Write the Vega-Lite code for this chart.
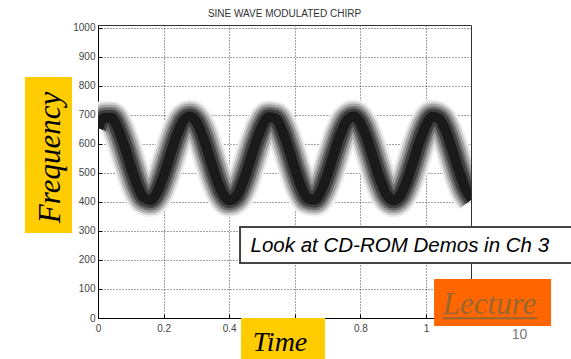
{
  "$schema": "https://vega.github.io/schema/vega-lite/v6.json",
  "width": 373,
  "height": 293,
  "autosize": {"type": "none"},
  "padding": {"left": 98, "top": 25, "right": 100, "bottom": 41},
  "background": "white",
  "title": {"text": "SINE WAVE MODULATED CHIRP", "fontSize": 10, "font": "Liberation Sans", "fontWeight": "normal", "color": "#333333", "anchor": "middle", "offset": 4},
  "config": {
    "view": {"stroke": "#333333", "strokeWidth": 1},
    "axis": {
      "labelFont": "Liberation Sans", "labelFontSize": 10, "labelColor": "#444444", "labelOverlap": false,
      "grid": true, "gridColor": "#444444", "gridDash": [1, 2], "gridWidth": 1, "gridOpacity": 1,
      "domainColor": "#000000", "domainWidth": 1,
      "tickColor": "#000000", "tickSize": -4, "labelPadding": 9,
      "title": null
    },
    "axisY": {"tickCount": 11, "labelPadding": 7, "format": "d"},
    "axisX": {"tickCount": 6}
  },
  "datasets": {
    "band": [
      {"t": 0.00, "f": 655.4}, {"t": 0.02, "f": 690.4}, {"t": 0.04, "f": 690.4}, {"t": 0.06, "f": 655.4},
      {"t": 0.08, "f": 594.1}, {"t": 0.10, "f": 521.8}, {"t": 0.12, "f": 456.5}, {"t": 0.14, "f": 414.4},
      {"t": 0.16, "f": 406.4}, {"t": 0.18, "f": 434.0}, {"t": 0.20, "f": 490.5}, {"t": 0.22, "f": 561.9},
      {"t": 0.24, "f": 630.3}, {"t": 0.26, "f": 679.2}, {"t": 0.28, "f": 695.0}, {"t": 0.30, "f": 675.1},
      {"t": 0.32, "f": 624.0}, {"t": 0.34, "f": 554.6}, {"t": 0.36, "f": 483.8}, {"t": 0.38, "f": 429.8},
      {"t": 0.40, "f": 405.5}, {"t": 0.42, "f": 417.5}, {"t": 0.44, "f": 462.4}, {"t": 0.46, "f": 529.0},
      {"t": 0.48, "f": 601.0}, {"t": 0.50, "f": 659.8}, {"t": 0.52, "f": 692.1}, {"t": 0.54, "f": 688.4},
      {"t": 0.56, "f": 650.2}, {"t": 0.58, "f": 587.1}, {"t": 0.60, "f": 514.7}, {"t": 0.62, "f": 451.1},
      {"t": 0.64, "f": 412.0}, {"t": 0.66, "f": 407.6}, {"t": 0.68, "f": 438.6}, {"t": 0.70, "f": 497.3},
      {"t": 0.72, "f": 569.2}, {"t": 0.74, "f": 636.3}, {"t": 0.76, "f": 682.3}, {"t": 0.78, "f": 694.6},
      {"t": 0.80, "f": 671.2}, {"t": 0.82, "f": 617.6}, {"t": 0.84, "f": 547.2}, {"t": 0.86, "f": 477.5},
      {"t": 0.88, "f": 425.7}, {"t": 0.90, "f": 405.1}, {"t": 0.92, "f": 420.5}, {"t": 0.94, "f": 468.4},
      {"t": 0.96, "f": 536.2}, {"t": 0.98, "f": 607.9}, {"t": 1.00, "f": 664.7}, {"t": 1.02, "f": 693.3},
      {"t": 1.04, "f": 686.0}, {"t": 1.06, "f": 644.8}, {"t": 1.08, "f": 579.9}, {"t": 1.10, "f": 507.6},
      {"t": 1.12, "f": 445.8}, {"t": 1.14, "f": 410.0}
    ]
  },
  "layer": [
    {
      "data": {"name": "band"},
      "mark": {"type": "line", "clip": true, "strokeWidth": 34, "color": "#eeeeee", "interpolate": "monotone", "strokeJoin": "round"},
      "encoding": {
        "x": {"field": "t", "type": "quantitative", "scale": {"domain": [0, 1.137], "nice": false, "zero": false},
              "axis": {"values": [0, 0.2, 0.4, 0.6, 0.8, 1], "labelExpr": "datum.value > 0.55 && datum.value < 0.65 ? '' : format(datum.value, '.1~f')", "labelAlign": "center"}},
        "y": {"field": "f", "type": "quantitative", "scale": {"domain": [0, 1010], "nice": false},
              "axis": {"values": [0, 100, 200, 300, 400, 500, 600, 700, 800, 900, 1000], "tickCount": 11, "format": "d", "labelPadding": 7}}
      }
    },
    {
      "data": {"name": "band"},
      "mark": {"type": "line", "clip": true, "strokeWidth": 30, "color": "#cfcfcf", "interpolate": "monotone", "strokeJoin": "round"},
      "encoding": {"x": {"field": "t", "type": "quantitative"}, "y": {"field": "f", "type": "quantitative"}}
    },
    {
      "data": {"name": "band"},
      "mark": {"type": "line", "clip": true, "strokeWidth": 26, "color": "#a4a4a4", "interpolate": "monotone", "strokeJoin": "round"},
      "encoding": {"x": {"field": "t", "type": "quantitative"}, "y": {"field": "f", "type": "quantitative"}}
    },
    {
      "data": {"name": "band"},
      "mark": {"type": "line", "clip": true, "strokeWidth": 21, "color": "#707070", "interpolate": "monotone", "strokeJoin": "round"},
      "encoding": {"x": {"field": "t", "type": "quantitative"}, "y": {"field": "f", "type": "quantitative"}}
    },
    {
      "data": {"name": "band"},
      "mark": {"type": "line", "clip": true, "strokeWidth": 16, "color": "#404040", "interpolate": "monotone", "strokeJoin": "round"},
      "encoding": {"x": {"field": "t", "type": "quantitative"}, "y": {"field": "f", "type": "quantitative"}}
    },
    {
      "data": {"name": "band"},
      "mark": {"type": "line", "clip": true, "strokeWidth": 10, "color": "#1a1a1a", "interpolate": "monotone", "strokeJoin": "round"},
      "encoding": {"x": {"field": "t", "type": "quantitative"}, "y": {"field": "f", "type": "quantitative"}}
    },
    {
      "data": {"values": [{"label": "Frequency"}]},
      "mark": {"type": "rect", "color": "#FFCC00"},
      "encoding": {
        "x": {"datum": -0.2226, "type": "quantitative"}, "x2": {"datum": -0.0793},
        "y": {"datum": 830.7, "type": "quantitative"}, "y2": {"datum": 293.0}
      }
    },
    {
      "data": {"values": [{"label": "Frequency"}]},
      "mark": {"type": "text", "font": "Liberation Serif", "fontStyle": "italic", "fontSize": 31, "angle": 270, "align": "center", "baseline": "alphabetic", "color": "#000000"},
      "encoding": {
        "x": {"datum": -0.1159, "type": "quantitative"},
        "y": {"datum": 553.3, "type": "quantitative"},
        "text": {"field": "label"}
      }
    },
    {
      "data": {"values": [{"label": "Time"}]},
      "mark": {"type": "rect", "color": "#FFCC00"},
      "encoding": {
        "x": {"datum": 0.436, "type": "quantitative"}, "x2": {"datum": 0.692},
        "y": {"datum": 0, "type": "quantitative"}, "y2": {"datum": -160}
      }
    },
    {
      "data": {"values": [{"label": "Time"}]},
      "mark": {"type": "text", "font": "Liberation Serif", "fontStyle": "italic", "fontSize": 28, "align": "center", "baseline": "alphabetic", "color": "#000000"},
      "encoding": {
        "x": {"datum": 0.555, "type": "quantitative"},
        "y": {"datum": -113.8, "type": "quantitative"},
        "text": {"field": "label"}
      }
    },
    {
      "data": {"values": [{"label": "Look at CD-ROM Demos in Ch 3"}]},
      "mark": {"type": "rect", "fill": "#ffffff", "stroke": "#444444", "strokeWidth": 2},
      "encoding": {
        "x": {"datum": 0.433, "type": "quantitative"}, "x2": {"datum": 1.47},
        "y": {"datum": 313.7, "type": "quantitative"}, "y2": {"datum": 189.6}
      }
    },
    {
      "data": {"values": [{"label": "Look at CD-ROM Demos in Ch 3"}]},
      "mark": {"type": "text", "font": "Liberation Sans", "fontStyle": "italic", "fontSize": 20.5, "align": "left", "baseline": "alphabetic", "color": "#000000"},
      "encoding": {
        "x": {"datum": 0.465, "type": "quantitative"},
        "y": {"datum": 227.5, "type": "quantitative"},
        "text": {"field": "label"}
      }
    },
    {
      "data": {"values": [{"label": "Lecture"}]},
      "mark": {"type": "rect", "color": "#FF6600"},
      "encoding": {
        "x": {"datum": 1.0244, "type": "quantitative"}, "x2": {"datum": 1.381},
        "y": {"datum": 134.4, "type": "quantitative"}, "y2": {"datum": -27.6}
      }
    },
    {
      "data": {"values": [{"label": "Lecture"}]},
      "mark": {"type": "text", "font": "Liberation Serif", "fontStyle": "italic", "fontSize": 31, "align": "center", "baseline": "alphabetic", "color": "#996633"},
      "encoding": {
        "x": {"datum": 1.1936, "type": "quantitative"},
        "y": {"datum": 12.8, "type": "quantitative"},
        "text": {"field": "label"}
      }
    },
    {
      "data": {"values": [{"label": "Lecture"}]},
      "mark": {"type": "rule", "color": "#996633", "strokeWidth": 2},
      "encoding": {
        "x": {"datum": 1.0518, "type": "quantitative"}, "x2": {"datum": 1.3384},
        "y": {"datum": -1, "type": "quantitative"}
      }
    },
    {
      "data": {"values": [{"label": "10"}]},
      "mark": {"type": "text", "font": "Liberation Sans", "fontSize": 14, "align": "center", "baseline": "alphabetic", "color": "#777777"},
      "encoding": {
        "x": {"datum": 1.285, "type": "quantitative"},
        "y": {"datum": -72.4, "type": "quantitative"},
        "text": {"field": "label"}
      }
    }
  ]
}
